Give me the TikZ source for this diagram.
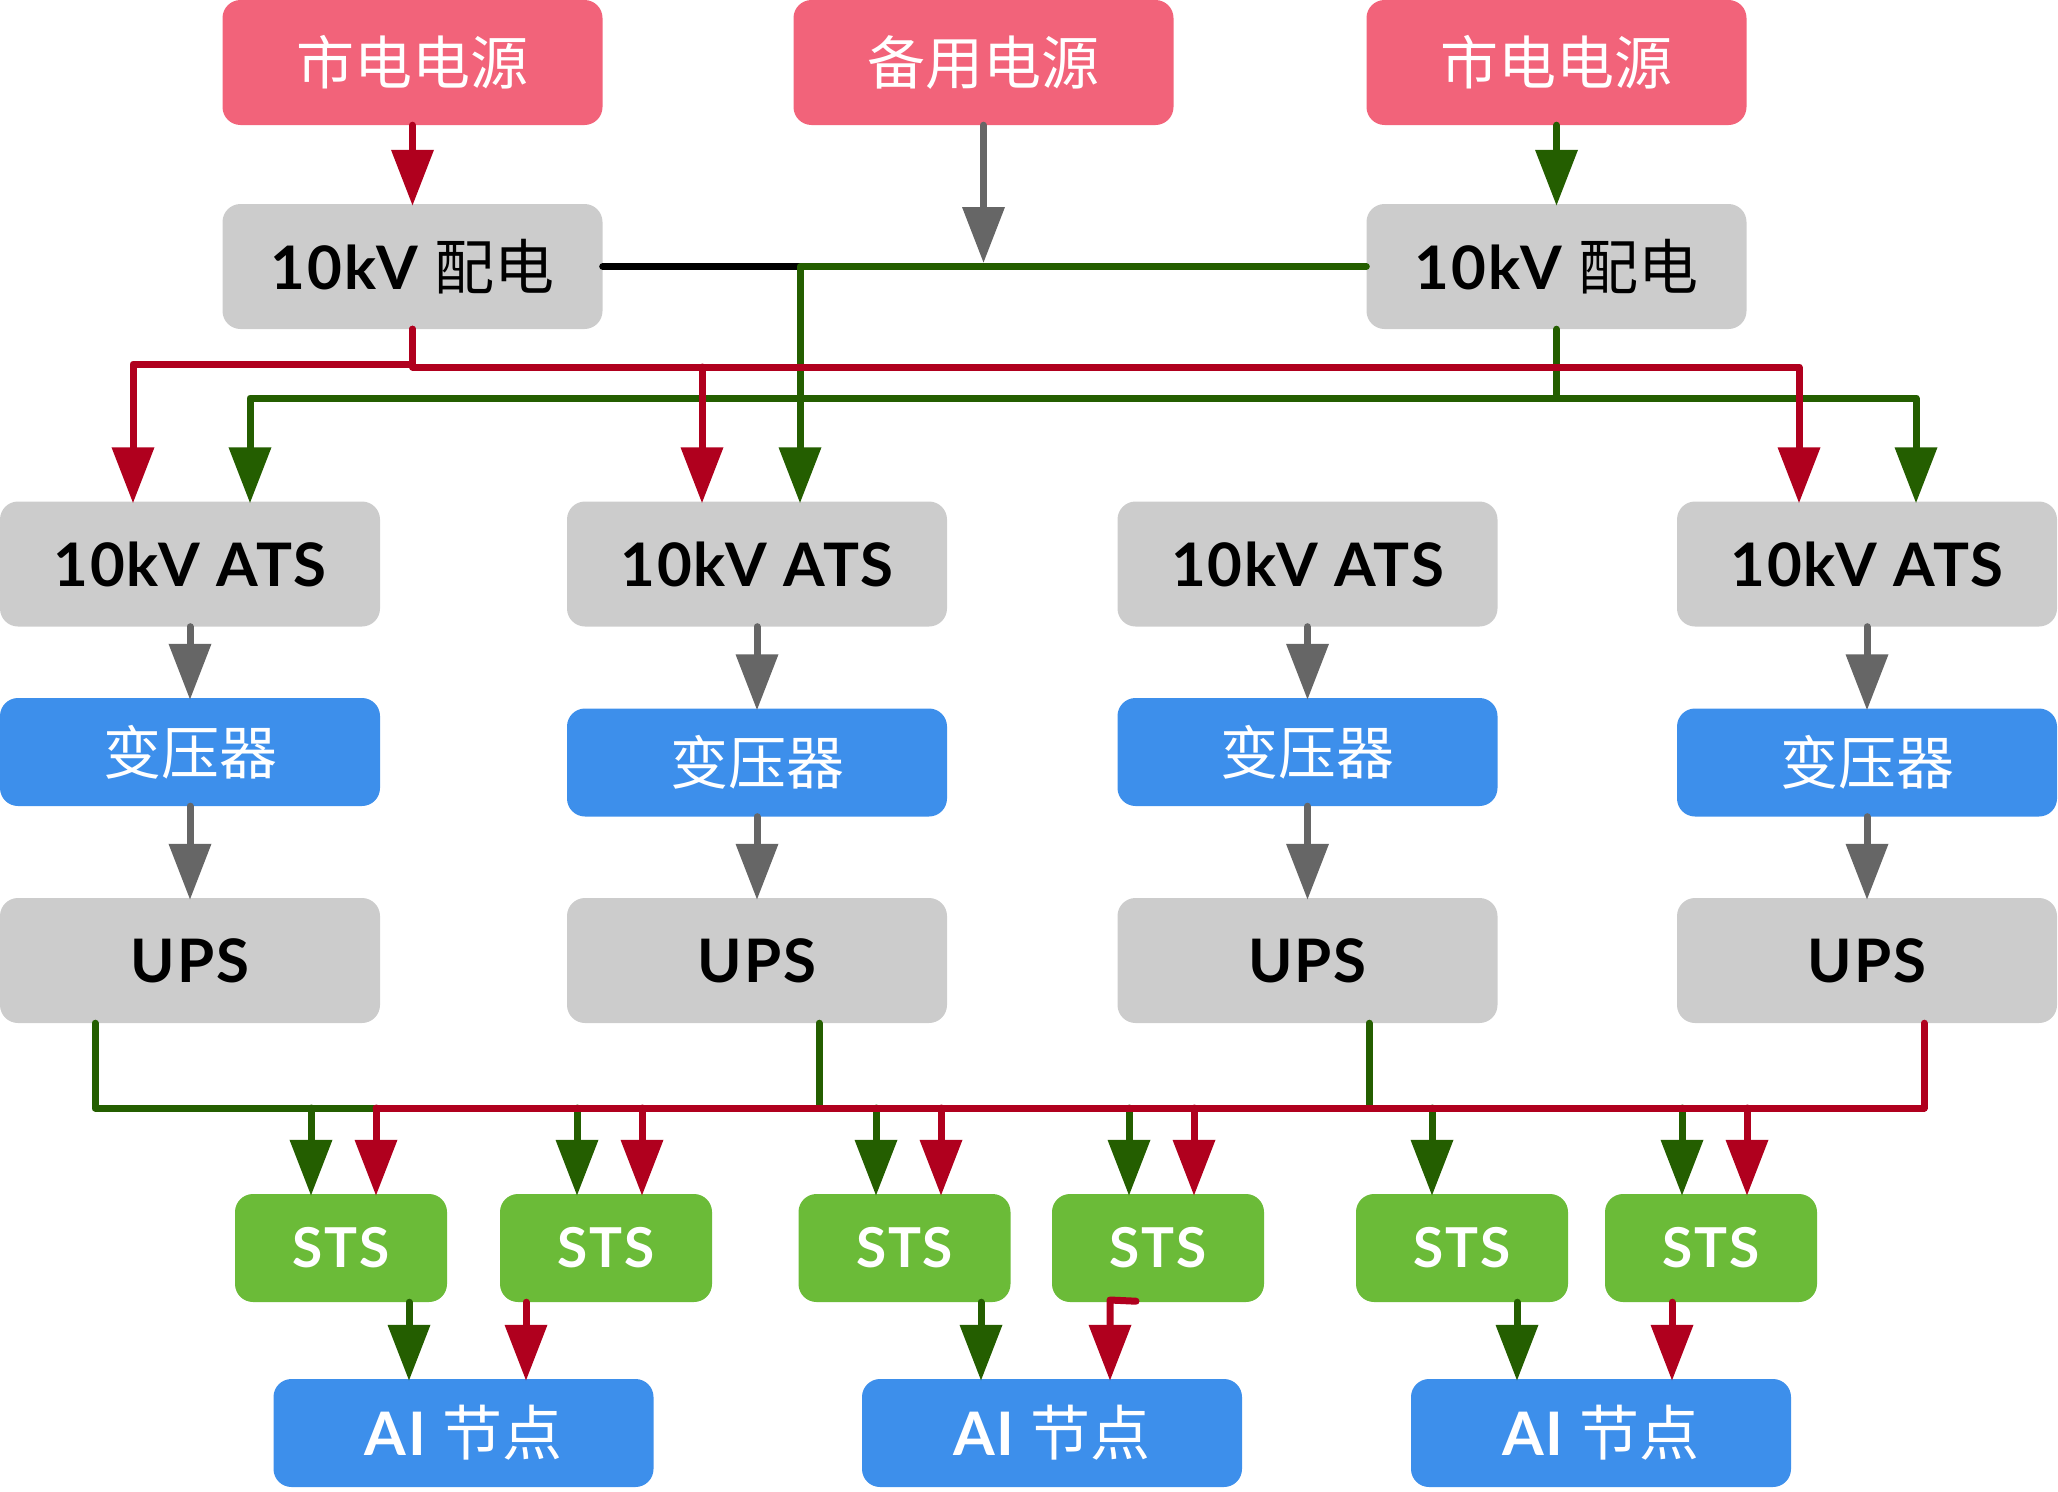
\documentclass[tikz,border=0pt]{standalone}
\usepackage{fontspec}
\setmainfont{Lato}[LetterSpace=3]
\newfontfamily\cjkf{Noto Sans CJK SC}
\usetikzlibrary{arrows.meta}
\definecolor{pinkc}{RGB}{242,99,122}
\definecolor{grayc}{RGB}{204,204,204}
\definecolor{bluec}{RGB}{61,143,235}
\definecolor{stsc}{RGB}{107,187,56}
\definecolor{redc}{RGB}{176,0,30}
\definecolor{greenc}{RGB}{36,94,0}
\definecolor{arrgray}{RGB}{102,102,102}
\tikzset{
  box/.style={rounded corners=18pt, inner sep=0pt, minimum width=380pt, minimum height=125pt, align=center},
  srcbox/.style={box, fill=pinkc, text=white, font=\cjkf\fontsize{58}{62}\selectfont},
  graybox/.style={box, fill=grayc, text=black, font=\bfseries\fontsize{60}{64}\selectfont},
  trbox/.style={box, minimum height=108pt, fill=bluec, text=white, font=\cjkf\fontsize{58}{62}\selectfont},
  stsbox/.style={box, minimum width=212pt, minimum height=108pt, fill=stsc, text=white, font=\bfseries\fontsize{55}{58}\selectfont},
  aibox/.style={box, minimum height=108pt, fill=bluec, text=white, font=\bfseries\fontsize{60}{64}\selectfont},
  wire/.style={line width=7pt, line cap=round, line join=round},
  tip/.style={-{Triangle[length=56pt,width=41pt]}},
  rw/.style={wire, draw=redc},
  gw/.style={wire, draw=greenc},
  kw/.style={wire, draw=black},
  aw/.style={wire, draw=arrgray, tip},
  ra/.style={rw, tip},
  ga/.style={gw, tip},
}
\begin{document}
\begin{tikzpicture}[x=1pt,y=-1pt]
\useasboundingbox (0,0) rectangle (2058,1491);
% top row
\node[srcbox] (src1) at (412.5,62.5) {市电电源};
\node[srcbox] (bak) at (983.5,62.5) {备用电源};
\node[srcbox] (src3) at (1556.5,62.5) {市电电源};
% 10kV distribution
\node[graybox] (pd1) at (412.5,266.5) {10kV {\cjkf\mdseries 配电}};
\node[graybox] (pd3) at (1556.5,266.5) {10kV {\cjkf\mdseries 配电}};
% ATS
\node[graybox] (ats1) at (190,564) {10kV ATS};
\node[graybox] (ats2) at (757,564) {10kV ATS};
\node[graybox] (ats3) at (1307.5,564) {10kV ATS};
\node[graybox] (ats4) at (1867,564) {10kV ATS};
% transformers
\node[trbox] (tr1) at (190,752) {变压器};
\node[trbox] (tr2) at (757,762.5) {变压器};
\node[trbox] (tr3) at (1307.5,752) {变压器};
\node[trbox] (tr4) at (1867,762.5) {变压器};
% UPS
\node[graybox] (ups1) at (190,960.5) {UPS};
\node[graybox] (ups2) at (757,960.5) {UPS};
\node[graybox] (ups3) at (1307.5,960.5) {UPS};
\node[graybox] (ups4) at (1867,960.5) {UPS};
% STS
\node[stsbox] (sts1) at (341,1248) {STS};
\node[stsbox] (sts2) at (606,1248) {STS};
\node[stsbox] (sts3) at (904.5,1248) {STS};
\node[stsbox] (sts4) at (1158,1248) {STS};
\node[stsbox] (sts5) at (1462,1248) {STS};
\node[stsbox] (sts6) at (1711,1248) {STS};
% AI nodes
\node[aibox] (ai1) at (463.5,1433) {AI {\cjkf\mdseries 节点}};
\node[aibox] (ai2) at (1052,1433) {AI {\cjkf\mdseries 节点}};
\node[aibox] (ai3) at (1601,1433) {AI {\cjkf\mdseries 节点}};

% bus coordinates
\coordinate (hv) at (800,266.5);
\coordinate (bakhit) at (983.5,263);

% sources to distribution
\draw[ra] (src1.south) -- ([yshift=-2pt]pd1.north);
\draw[ga] (src3.south) -- ([yshift=-2pt]pd3.north);
\draw[aw] (bak.south) -- (bakhit);

% tie line
\draw[kw] (pd1.east) -- (hv);
\draw[ga] (pd3.west) -- (hv) -- ([yshift=-2pt]ats2.north -| hv);

% green feeds from pd3
\draw[gw] (pd3.south) -- (1556.5,398);
\draw[ga] (1556.5,398) -- (250,398) -- ([yshift=-2pt]ats1.north -| 250,0);
\draw[ga] (1556.5,398) -- (1916,398) -- ([yshift=-2pt]ats4.north -| 1916,0);

% red feeds from pd1
\draw[ra] (pd1.south) -- (412.5,364) -- (133,364) -- ([yshift=-2pt]ats1.north -| 133,0);
\draw[ra] (pd1.south) -- (412.5,367) -- (1799,367) -- ([yshift=-2pt]ats4.north -| 1799,0);
\draw[ra] (702,367) -- ([yshift=-2pt]ats2.north -| 702,0);

% vertical chains
\foreach \i in {1,2,3,4}{
  \draw[aw] (ats\i.south) -- ([yshift=-2pt]tr\i.north);
  \draw[aw] (tr\i.south) -- ([yshift=-2pt]ups\i.north);
}

% green bus from UPS 1-3
\draw[gw] (ups1.south -| 95,0) -- (95,1108) -- (1682,1108);
\draw[gw] (ups2.south -| 819,0) -- (819,1108);
\draw[gw] (ups3.south -| 1369,0) -- (1369,1108);
\draw[ga] (311,1108) -- ([yshift=-2pt]sts1.north -| 311,0);
\draw[ga] (577,1108) -- ([yshift=-2pt]sts2.north -| 577,0);
\draw[ga] (876,1108) -- ([yshift=-2pt]sts3.north -| 876,0);
\draw[ga] (1129,1108) -- ([yshift=-2pt]sts4.north -| 1129,0);
\draw[ga] (1432,1108) -- ([yshift=-2pt]sts5.north -| 1432,0);
\draw[ga] (1682,1108) -- ([yshift=-2pt]sts6.north -| 1682,0);

% red bus from UPS 4
\draw[rw] (ups4.south -| 1924,0) -- (1924,1108) -- (376,1108);
\draw[ra] (376,1108) -- ([yshift=-2pt]sts1.north -| 376,0);
\draw[ra] (642,1108) -- ([yshift=-2pt]sts2.north -| 642,0);
\draw[ra] (941,1108) -- ([yshift=-2pt]sts3.north -| 941,0);
\draw[ra] (1194,1108) -- ([yshift=-2pt]sts4.north -| 1194,0);
\draw[ra] (1747,1108) -- ([yshift=-2pt]sts6.north -| 1747,0);

% STS to AI nodes
\draw[ga] (sts1.south -| 409,0) -- ([yshift=-2pt]ai1.north -| 409,0);
\draw[ra] (sts2.south -| 526,0) -- ([yshift=-2pt]ai1.north -| 526,0);
\draw[ga] (sts3.south -| 981,0) -- ([yshift=-2pt]ai2.north -| 981,0);
\draw[ra] ([yshift=1pt]sts4.south -| 1136,0) -- (1110,1300) -- ([yshift=-2pt]ai2.north -| 1110,0);
\draw[ga] (sts5.south -| 1517,0) -- ([yshift=-2pt]ai3.north -| 1517,0);
\draw[ra] (sts6.south -| 1672,0) -- ([yshift=-2pt]ai3.north -| 1672,0);
\end{tikzpicture}
\end{document}
